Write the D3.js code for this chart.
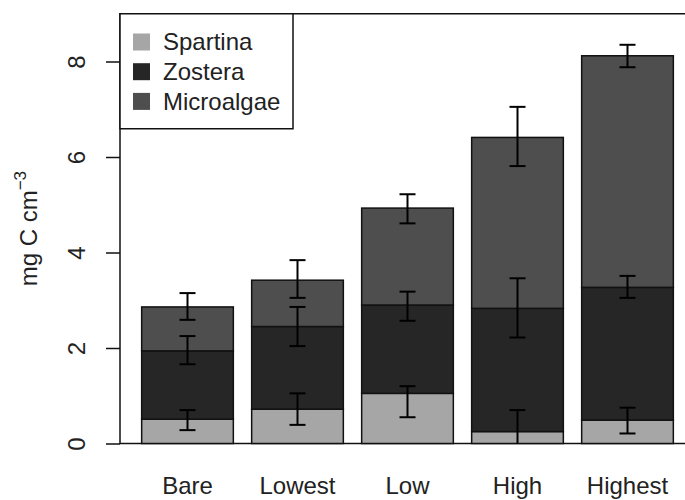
<!DOCTYPE html>
<html>
<head>
<meta charset="utf-8">
<title>Carbon by elevation</title>
<script src="https://d3js.org/d3.v7.min.js"></script>
<style>
body {
	margin: 0;
	background-color: white;
}
svg {
	display: block;
	font-family: "Liberation Sans", Arial, sans-serif;
}
.axis text {
	font-size: 24px;
	fill: #222;
}
.axis line, .axis path {
	stroke: #111;
	stroke-width: 1.5;
}
</style>
<script>
/* globals d3 */
const sites = ["Bare", "Lowest", "Low", "High", "Highest"];
const groups = ["Spartina", "Zostera", "Microalgae"];
// per-group means (mg C cm^-3), stacked in this order
const spartina = [0.51, 0.72, 1.05, 0.25, 0.49];
const zostera = [1.43, 1.73, 1.85, 2.58, 2.78];
const microalgae = [0.92, 0.97, 2.03, 3.58, 4.85];
// error bar ends, on the stacked scale
const spartinaHi = [0.70, 1.05, 1.20, 0.70, 0.75];
const spartinaLo = [0.28, 0.39, 0.55, -0.20, 0.21];
const zosteraHi = [2.25, 2.86, 3.18, 3.46, 3.51];
const zosteraLo = [1.66, 2.04, 2.57, 2.22, 3.05];
const microalgaeHi = [3.15, 3.84, 5.22, 7.05, 8.35];
const microalgaeLo = [2.59, 3.05, 4.61, 5.81, 7.88];
const yTicks = [0, 2, 4, 6, 8];

function main()
{
	const W = 685, H = 500;
	const box = {left: 120, top: 13.75, bottom: 443.5, right: 700};
	const colors = {Spartina: "#a6a6a6", Zostera: "#262626", Microalgae: "#4e4e4e"};

	const values = {Spartina: spartina, Zostera: zostera, Microalgae: microalgae};
	const hi = {Spartina: spartinaHi, Zostera: zosteraHi, Microalgae: microalgaeHi};
	const lo = {Spartina: spartinaLo, Zostera: zosteraLo, Microalgae: microalgaeLo};
	const rows = sites.map((s, i) => {
		const r = {site: s};
		for (const g of groups) r[g] = values[g][i];
		return r;
	});
	const stacked = d3.stack().keys(groups)(rows);

	const x = d3.scaleBand(sites, [132.5, 682.5])
		.paddingInner(1 / 6)
		.paddingOuter(1 / 12);
	const y = d3.scaleLinear([0, 9], [box.bottom, box.top]);

	const svg = d3.select("body").append("svg")
		.attr("width", W)
		.attr("height", H);

	// plot frame (right side runs off the picture)
	svg.append("rect")
		.attr("x", box.left)
		.attr("y", box.top)
		.attr("width", box.right - box.left)
		.attr("height", box.bottom - box.top)
		.attr("fill", "none")
		.attr("stroke", "#111")
		.attr("stroke-width", 1.5);

	// bars
	svg.append("g").selectAll("g")
		.data(stacked)
		.join("g")
			.attr("fill", d => colors[d.key])
		.selectAll("rect")
			.data(d => d)
			.join("rect")
			.attr("x", d => x(d.data.site))
			.attr("width", x.bandwidth())
			.attr("y", d => y(d[1]))
			.attr("height", d => y(d[0]) - y(d[1]))
			.attr("stroke", "#111")
			.attr("stroke-width", 1.5);

	// error bars
	const errData = [];
	for (const g of groups)
		sites.forEach((s, i) => errData.push({site: s, hi: hi[g][i], lo: lo[g][i]}));
	const eb = svg.append("g")
		.attr("stroke", "#000")
		.attr("stroke-width", 2)
		.selectAll("g")
		.data(errData)
		.join("g")
			.attr("transform", d => "translate(" + (x(d.site) + x.bandwidth() / 2) + ",0)");
	eb.append("line")
		.attr("y1", d => y(d.hi))
		.attr("y2", d => Math.min(y(d.lo), box.bottom));
	eb.append("line")
		.attr("x1", -8).attr("x2", 8)
		.attr("y1", d => y(d.hi))
		.attr("y2", d => y(d.hi));
	eb.filter(d => d.lo >= 0).append("line")
		.attr("x1", -8).attr("x2", 8)
		.attr("y1", d => y(d.lo))
		.attr("y2", d => y(d.lo));

	// y axis, R style rotated labels
	const gy = svg.append("g")
		.attr("class", "axis")
		.attr("transform", "translate(" + box.left + ",0)")
		.call(d3.axisLeft(y).tickValues(yTicks).tickSize(14).tickSizeOuter(0));
	gy.select(".domain").remove();
	gy.selectAll(".tick text")
		.attr("x", null)
		.attr("text-anchor", "middle")
		.attr("transform", "translate(-43,0) rotate(-90)")
		.attr("dy", "0.35em");

	// x axis labels only
	const gx = svg.append("g")
		.attr("class", "axis")
		.attr("transform", "translate(0," + box.bottom + ")")
		.call(d3.axisBottom(x).tickSize(0));
	gx.select(".domain").remove();
	gx.selectAll(".tick text").attr("y", 50).attr("dy", null);

	// y label
	const yl = svg.append("text")
		.attr("transform", "translate(37," + ((box.top + box.bottom) / 2) + ") rotate(-90)")
		.attr("text-anchor", "middle")
		.attr("font-size", 24)
		.attr("fill", "#222");
	yl.append("tspan").text("mg C cm");
	yl.append("tspan")
		.attr("font-size", 17)
		.attr("dy", -11)
		.text("\u22123");

	// legend
	const leg = svg.append("g");
	leg.append("rect")
		.attr("x", box.left)
		.attr("y", box.top)
		.attr("width", 173)
		.attr("height", 115)
		.attr("fill", "white")
		.attr("stroke", "#111")
		.attr("stroke-width", 1.5);
	const items = leg.selectAll("g")
		.data(groups)
		.join("g")
			.attr("transform", (d, i) => "translate(0," + (42 + i * 29.7) + ")");
	items.append("rect")
		.attr("x", 133)
		.attr("y", -8.5)
		.attr("width", 17)
		.attr("height", 17)
		.attr("fill", d => colors[d]);
	items.append("text")
		.attr("x", 163)
		.attr("dy", "0.35em")
		.attr("font-size", 24)
		.attr("fill", "#222")
		.text(d => d);
}
window.addEventListener("DOMContentLoaded", main);
</script>
</head>
<body>
</body>
</html>
